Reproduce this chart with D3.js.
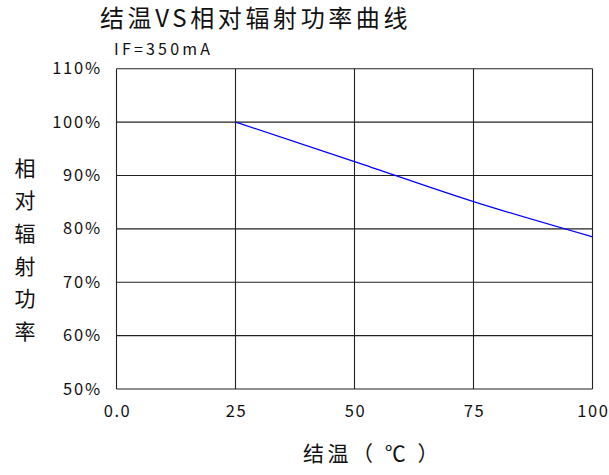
<!DOCTYPE html>
<html>
<head>
<meta charset="utf-8">
<script src="https://cdn.jsdelivr.net/npm/d3@7/dist/d3.min.js"></script>
<style>
  html, body { margin: 0; padding: 0; background: #fff; }
  svg { display: block; }
  text { font-family: "Noto Sans CJK SC", "Noto Sans", sans-serif; fill: #111; }
</style>
</head>
<body>
<svg id="chart" width="609" height="475"></svg>
<script>
// ---- data ----
const tempC = [25, 50, 75, 100];
const relPower = [100, 92.6, 85.1, 78.5];
const xTickValues = [0, 25, 50, 75, 100];
const xTickLabels = ["0.0", "25", "50", "75", "100"];
const yTickValues = [50, 60, 70, 80, 90, 100, 110];
const yTickLabels = ["50%", "60%", "70%", "80%", "90%", "100%", "110%"];
const titleText = "结温VS相对辐射功率曲线";
const subtitleText = "IF=350mA";
const xAxisTitle = "结温（ ℃ ）";
const yAxisTitleChars = ["相", "对", "辐", "射", "功", "率"];

// ---- layout ----
const svg = d3.select("#chart");
const plotL = 116.5, plotR = 592.5, plotT = 68.7, plotB = 389;

const x = d3.scaleLinear().domain([0, 100]).range([plotL, plotR]);
const y = d3.scaleLinear().domain([50, 110]).range([plotB, plotT]);

// grid
const grid = svg.append("g");
grid.selectAll("line.h").data(yTickValues).join("line")
  .attr("class", "h")
  .attr("x1", plotL).attr("x2", plotR)
  .attr("y1", d => y(d)).attr("y2", d => y(d))
  .attr("stroke", "#222").attr("stroke-width", 1.1);
grid.selectAll("line.v").data(xTickValues).join("line")
  .attr("class", "v")
  .attr("y1", plotT).attr("y2", plotB)
  .attr("x1", d => x(d)).attr("x2", d => x(d))
  .attr("stroke", "#222").attr("stroke-width", 1.1);

// y tick labels
svg.append("g").selectAll("text").data(yTickValues).join("text")
  .attr("x", 102).attr("y", d => y(d) + 5.5)
  .attr("text-anchor", "end")
  .attr("font-size", 16.5)
  .attr("letter-spacing", 1.8)
  .text((d, i) => yTickLabels[i]);

// x tick labels
svg.append("g").selectAll("text").data(xTickValues).join("text")
  .attr("x", d => x(d) + 1).attr("y", 417)
  .attr("text-anchor", "middle")
  .attr("font-size", 16.5)
  .attr("letter-spacing", 1.6)
  .text((d, i) => xTickLabels[i]);

// data line
const pts = tempC.map((t, i) => [t, relPower[i]]);
svg.append("path")
  .datum(pts)
  .attr("fill", "none")
  .attr("stroke", "#0000ff")
  .attr("stroke-width", 1.2)
  .attr("d", d3.line().x(d => x(d[0])).y(d => y(d[1])).curve(d3.curveMonotoneX));

// title
svg.append("text")
  .attr("x", 100).attr("y", 27)
  .attr("font-size", 24)
  .attr("letter-spacing", 3.6)
  .text(titleText);

// subtitle
svg.append("text")
  .attr("x", 114).attr("y", 55)
  .attr("font-size", 16)
  .attr("letter-spacing", 3.2)
  .text(subtitleText);

// x axis title
svg.append("text")
  .attr("x", 303).attr("y", 461)
  .attr("font-size", 21)
  .attr("letter-spacing", 3.5)
  .style("white-space", "pre")
  .text(xAxisTitle);

// y axis title (vertical stacked chars)
svg.append("g").selectAll("text").data(yAxisTitleChars).join("text")
  .attr("x", 25).attr("y", (d, i) => 175.5 + i * 32.7)
  .attr("text-anchor", "middle")
  .attr("font-size", 21)
  .text(d => d);
</script>
</body>
</html>
